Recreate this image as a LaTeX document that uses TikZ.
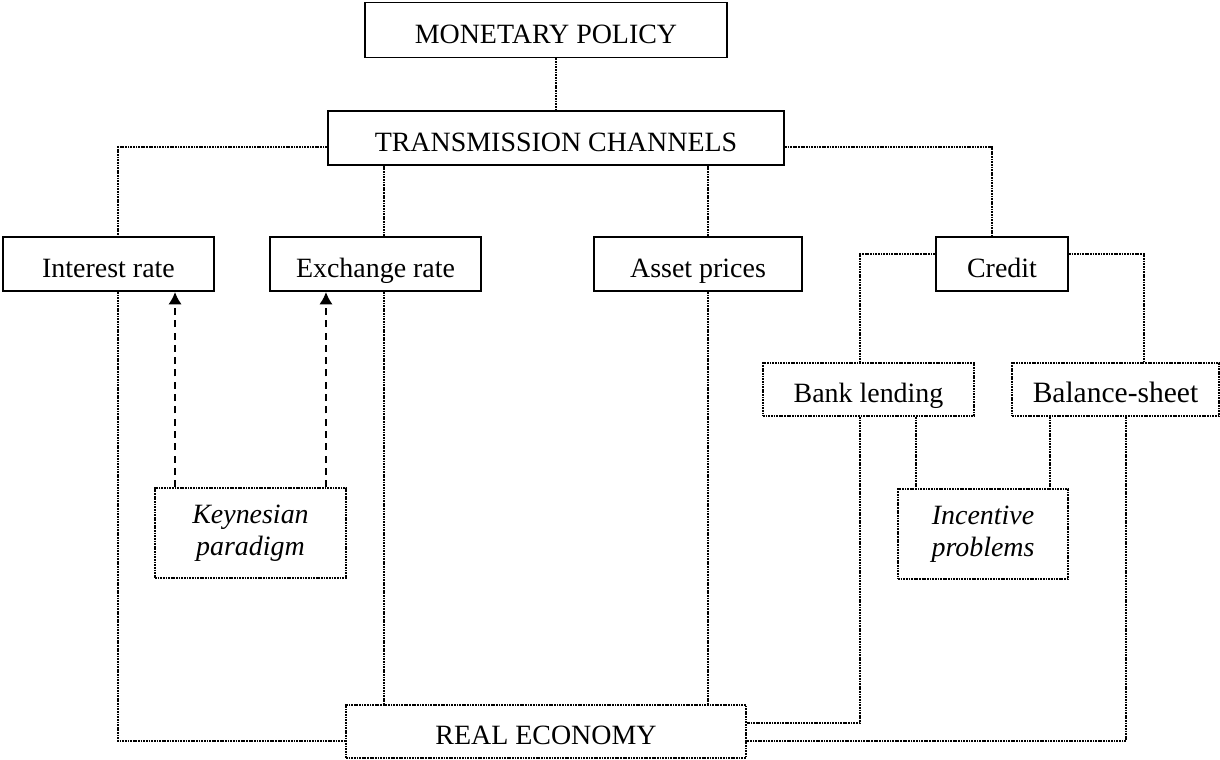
\documentclass[tikz,border=0pt]{standalone}
\usepackage{fontspec}
\setmainfont{Liberation Serif}
\usetikzlibrary{arrows.meta}

\begin{document}
\begin{tikzpicture}[x=0.02cm,y=-0.02cm,
  box/.style={draw,line width=1.1pt,inner sep=0pt,align=center,
    font=\fontsize{15.9}{18.5}\selectfont},
  onebox/.style={box,text height=1.5em,text depth=0pt},
  dotbox/.style={box,line width=1pt,dash pattern=on 1pt off 0.5pt},
  link/.style={line width=0.9pt,dash pattern=on 1pt off 0.5pt},
  hint/.style={line width=1.1pt,dash pattern=on 4pt off 3pt,-{Latex[length=7pt,width=7.5pt]}}]

\useasboundingbox (0,0) rectangle (1220,760);

\node[onebox,minimum width=7.24cm,minimum height=1.10cm] (mp) at (546,30) {MONETARY POLICY};
\node[onebox,minimum width=9.12cm,minimum height=1.08cm] (tc) at (556,138) {TRANSMISSION CHANNELS};

\node[onebox,minimum width=4.22cm,minimum height=1.08cm] (ir) at (108.5,264) {Interest rate};
\node[onebox,minimum width=4.22cm,minimum height=1.08cm] (er) at (375.5,264) {Exchange rate};
\node[onebox,minimum width=4.16cm,minimum height=1.08cm] (ap) at (698,264) {Asset prices};
\node[onebox,minimum width=2.64cm,minimum height=1.08cm] (cr) at (1002,264) {Credit};

\node[dotbox,onebox,minimum width=4.22cm,minimum height=1.06cm] (bl) at (868.5,389.5) {Bank lending};
\node[dotbox,onebox,minimum width=4.14cm,minimum height=1.06cm,font=\fontsize{16.8}{19}\selectfont] (bs) at (1115.5,389.5) {Balance-sheet};

\node[dotbox,minimum width=3.82cm,minimum height=1.80cm] (kp) at (250.5,533) {\itshape Keynesian\\\itshape paradigm};
\node[dotbox,minimum width=3.40cm,minimum height=1.80cm] (ip) at (983,534) {\itshape Incentive\\\itshape problems};

\node[dotbox,onebox,minimum width=8.00cm,minimum height=1.06cm] (re) at (546,731.5) {REAL ECONOMY};

\draw[link] (tc.north |- mp.south) -- (tc.north);
\draw[link] ([yshift=-0.18cm]tc.west) -| ([xshift=0.19cm]ir.north);
\draw[link] ([xshift=0.17cm]er.north) -- ([xshift=0.17cm]er.north |- tc.south);
\draw[link] ([xshift=0.2cm]ap.north) -- ([xshift=0.2cm]ap.north |- tc.south);
\draw[link] ([yshift=-0.18cm]tc.east) -| ([xshift=-0.2cm]cr.north);

\draw[link] ([yshift=0.2cm]cr.west) -| ([xshift=-0.17cm]bl.north);
\draw[link] ([yshift=0.2cm]cr.east) -| ([xshift=0.57cm]bs.north);

\draw[link] ([xshift=0.95cm]bl.south) -- ([xshift=0.95cm]bl.south |- ip.north);
\draw[link] ([xshift=-1.31cm]bs.south) -- ([xshift=-1.31cm]bs.south |- ip.north);

\draw[link] ([xshift=0.19cm]ir.south) |- ([yshift=-0.19cm]re.west);
\draw[link] ([xshift=0.17cm]er.south) -- ([xshift=0.17cm]er.south |- re.north);
\draw[link] ([xshift=0.2cm]ap.south) -- ([xshift=0.2cm]ap.south |- re.north);
\draw[link] ([xshift=-0.17cm]bl.south) |- ([yshift=0.17cm]re.east);
\draw[link] ([xshift=0.21cm]bs.south) |- ([yshift=-0.19cm]re.east);

\draw[hint] ([xshift=-1.51cm]kp.north) -- ([xshift=-1.51cm]kp.north |- ir.south);
\draw[hint] ([xshift=1.51cm]kp.north) -- ([xshift=1.51cm]kp.north |- er.south);

\end{tikzpicture}
\end{document}
